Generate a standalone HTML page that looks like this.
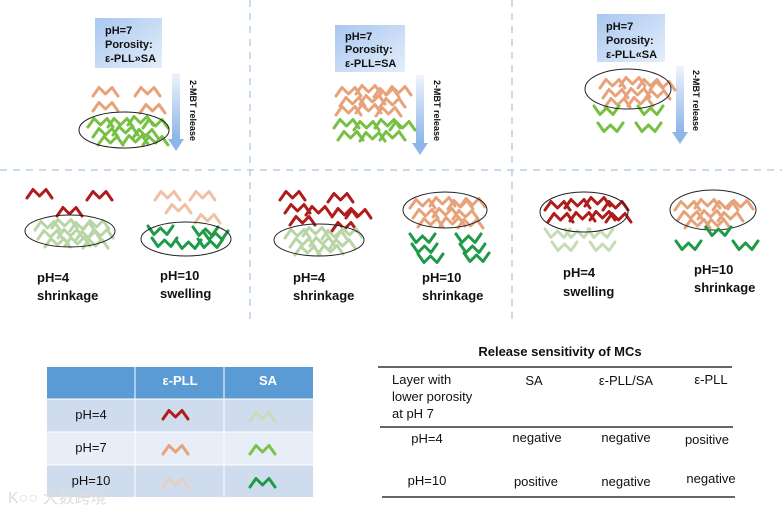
<!DOCTYPE html>
<html><head><meta charset="utf-8"><style>
body{margin:0;background:#fff}
svg{display:block;font-family:"Liberation Sans",Arial,sans-serif}
.b{font-weight:bold;font-size:13px;fill:#111}
.t{font-size:13px;fill:#111}
</style></head><body>
<svg width="782" height="515" viewBox="0 0 782 515" xmlns="http://www.w3.org/2000/svg">
<defs>
<path id="z" d="M0,10 L6,1.5 L12.5,8 L19,1.5 L25,10" fill="none" stroke-linecap="round" stroke-linejoin="round"/>
<path id="w" d="M0,1 L6,9.5 L12.5,3 L19,9.5 L25,1" fill="none" stroke-linecap="round" stroke-linejoin="round"/>
<linearGradient id="bx" x1="0" y1="0" x2="1" y2="1"><stop offset="0" stop-color="#a9c7ef"/><stop offset="1" stop-color="#e4eefb"/></linearGradient>
<linearGradient id="ar" x1="0" y1="0" x2="0" y2="1"><stop offset="0" stop-color="#eef4fc"/><stop offset="1" stop-color="#8db5e8"/></linearGradient>
</defs>
<g stroke="#b5d0ec" stroke-width="1.5" stroke-dasharray="7,6">
<line x1="0" y1="170" x2="782" y2="170"/>
<line x1="250" y1="0" x2="250" y2="325"/>
<line x1="512" y1="0" x2="512" y2="325"/>
</g>
<!-- panel 1 -->
<rect x="95" y="18" width="67" height="50" fill="url(#bx)"/>
<text class="b" style="font-size:11px" x="105" y="34">pH=7</text>
<text class="b" style="font-size:11px" x="105" y="48">Porosity:</text>
<text class="b" style="font-size:11px" x="105" y="62">ε-PLL»SA</text>
<rect x="172" y="73" width="8" height="66" fill="url(#ar)"/><polygon points="168,139 184,139 176,151" fill="#8db5e8"/>
<text class="b" style="font-size:9px" transform="translate(190,80) rotate(90)">2-MBT release</text>
<g stroke="#e8a27a" stroke-width="3">
<use href="#z" x="93" y="86"/><use href="#z" x="135" y="86"/><use href="#z" x="93" y="101"/><use href="#z" x="140" y="103"/></g>
<g stroke="#76c043" stroke-width="3">
<use href="#z" x="88" y="117"/><use href="#z" x="108" y="117"/><use href="#z" x="128" y="115"/><use href="#z" x="143" y="118"/>
<use href="#z" x="93" y="127"/><use href="#z" x="113" y="125"/><use href="#z" x="133" y="128"/>
<use href="#z" x="98" y="135"/><use href="#z" x="123" y="134"/><use href="#z" x="143" y="135"/></g>
<ellipse cx="124" cy="130" rx="45" ry="18" fill="none" stroke="#222" stroke-width="1"/>
<!-- panel 2 -->
<rect x="335" y="25" width="70" height="47" fill="url(#bx)"/>
<text class="b" style="font-size:11px" x="345" y="40">pH=7</text>
<text class="b" style="font-size:11px" x="345" y="53">Porosity:</text>
<text class="b" style="font-size:11px" x="345" y="67">ε-PLL=SA</text>
<rect x="416" y="75" width="8" height="68" fill="url(#ar)"/><polygon points="412,143 428,143 420,155" fill="#8db5e8"/>
<text class="b" style="font-size:9px" transform="translate(434,80) rotate(90)">2-MBT release</text>
<g stroke="#e8a27a" stroke-width="3">
<use href="#z" x="336" y="86"/><use href="#z" x="356" y="84"/><use href="#z" x="374" y="87"/><use href="#z" x="386" y="85"/>
<use href="#z" x="340" y="96"/><use href="#z" x="360" y="94"/><use href="#z" x="380" y="97"/>
<use href="#z" x="336" y="105"/><use href="#z" x="356" y="103"/><use href="#z" x="376" y="106"/></g>
<g stroke="#76c043" stroke-width="3">
<use href="#z" x="334" y="118"/><use href="#z" x="354" y="120"/><use href="#z" x="375" y="118"/><use href="#z" x="390" y="120"/>
<use href="#z" x="338" y="130"/><use href="#z" x="360" y="131"/><use href="#z" x="380" y="130"/></g>
<!-- panel 3 -->
<rect x="597" y="14" width="68" height="48" fill="url(#bx)"/>
<text class="b" style="font-size:11px" x="606" y="30">pH=7</text>
<text class="b" style="font-size:11px" x="606" y="44">Porosity:</text>
<text class="b" style="font-size:11px" x="606" y="58">ε-PLL«SA</text>
<rect x="676" y="66" width="8" height="66" fill="url(#ar)"/><polygon points="672,132 688,132 680,144" fill="#8db5e8"/>
<text class="b" style="font-size:9px" transform="translate(693,70) rotate(90)">2-MBT release</text>
<g stroke="#e8a27a" stroke-width="3">
<use href="#z" x="600" y="78"/><use href="#z" x="620" y="76"/><use href="#z" x="638" y="78"/><use href="#z" x="650" y="80"/>
<use href="#z" x="603" y="88"/><use href="#z" x="625" y="87"/><use href="#z" x="645" y="89"/>
<use href="#z" x="605" y="97"/><use href="#z" x="628" y="96"/></g>
<g stroke="#76c043" stroke-width="3">
<use href="#w" x="594" y="105"/><use href="#w" x="638" y="105"/><use href="#w" x="598" y="122"/><use href="#w" x="636" y="122"/></g>
<ellipse cx="628" cy="89" rx="43" ry="20" fill="none" stroke="#222" stroke-width="1"/>
<!-- bottom panel 1 -->
<g stroke="#b01c1c" stroke-width="3"><use href="#z" x="27" y="188"/><use href="#z" x="87" y="190"/><use href="#z" x="57" y="206"/></g>
<g stroke="#b8d6a5" stroke-width="3">
<use href="#z" x="35" y="220"/><use href="#z" x="52" y="218"/><use href="#z" x="70" y="221"/><use href="#z" x="84" y="219"/>
<use href="#z" x="38" y="229"/><use href="#z" x="58" y="228"/><use href="#z" x="76" y="230"/><use href="#z" x="88" y="228"/>
<use href="#z" x="45" y="237"/><use href="#z" x="65" y="236"/><use href="#z" x="83" y="238"/></g>
<ellipse cx="70" cy="231" rx="45" ry="16" fill="none" stroke="#222" stroke-width="1"/>
<g stroke="#f0c0a4" stroke-width="3"><use href="#z" x="155" y="190"/><use href="#z" x="190" y="190"/><use href="#z" x="166" y="203"/><use href="#z" x="195" y="213"/></g>
<g stroke="#1f9a48" stroke-width="3">
<use href="#w" x="148" y="225"/><use href="#w" x="152" y="237"/><use href="#w" x="176" y="239"/><use href="#w" x="193" y="226"/><use href="#w" x="198" y="238"/><use href="#w" x="203" y="230"/></g>
<ellipse cx="186" cy="239" rx="45" ry="17" fill="none" stroke="#222" stroke-width="1"/>
<text class="b" x="37" y="282">pH=4</text><text class="b" x="37" y="300">shrinkage</text>
<text class="b" x="160" y="280">pH=10</text><text class="b" x="160" y="298">swelling</text>
<!-- bottom panel 2 -->
<g stroke="#b01c1c" stroke-width="3">
<use href="#z" x="280" y="190"/><use href="#z" x="328" y="192"/><use href="#z" x="285" y="203"/><use href="#z" x="306" y="205"/><use href="#z" x="332" y="207"/><use href="#z" x="346" y="208"/><use href="#z" x="290" y="215"/><use href="#z" x="332" y="221"/></g>
<g stroke="#b8d6a5" stroke-width="3">
<use href="#z" x="285" y="228"/><use href="#z" x="303" y="226"/><use href="#z" x="322" y="229"/><use href="#z" x="337" y="227"/>
<use href="#z" x="290" y="237"/><use href="#z" x="310" y="236"/><use href="#z" x="330" y="238"/>
<use href="#z" x="295" y="245"/><use href="#z" x="318" y="244"/></g>
<ellipse cx="319" cy="240" rx="45" ry="16" fill="none" stroke="#222" stroke-width="1"/>
<g stroke="#e8a27a" stroke-width="3">
<use href="#z" x="410" y="198"/><use href="#z" x="430" y="196"/><use href="#z" x="448" y="199"/><use href="#z" x="460" y="197"/>
<use href="#z" x="413" y="208"/><use href="#z" x="433" y="207"/><use href="#z" x="453" y="209"/>
<use href="#z" x="418" y="217"/><use href="#z" x="440" y="216"/><use href="#z" x="458" y="218"/></g>
<ellipse cx="445" cy="210" rx="42" ry="18" fill="none" stroke="#222" stroke-width="1"/>
<g stroke="#1f9a48" stroke-width="3">
<use href="#w" x="410" y="233"/><use href="#w" x="412" y="243"/><use href="#w" x="418" y="253"/><use href="#w" x="456" y="233"/><use href="#w" x="460" y="243"/><use href="#w" x="464" y="252"/></g>
<text class="b" x="293" y="282">pH=4</text><text class="b" x="293" y="300">shrinkage</text>
<text class="b" x="422" y="282">pH=10</text><text class="b" x="422" y="300">shrinkage</text>
<!-- bottom panel 3 -->
<g stroke="#b01c1c" stroke-width="3">
<use href="#z" x="545" y="200"/><use href="#z" x="565" y="198"/><use href="#z" x="585" y="196"/><use href="#z" x="603" y="200"/>
<use href="#z" x="548" y="212"/><use href="#z" x="570" y="211"/><use href="#z" x="590" y="210"/><use href="#z" x="606" y="212"/></g>
<g stroke="#c5dcb5" stroke-width="3">
<use href="#w" x="545" y="228"/><use href="#w" x="565" y="228"/><use href="#w" x="588" y="228"/><use href="#w" x="552" y="241"/><use href="#w" x="590" y="241"/></g>
<ellipse cx="584" cy="212" rx="44" ry="20" fill="none" stroke="#222" stroke-width="1"/>
<g stroke="#e8a27a" stroke-width="3">
<use href="#z" x="675" y="200"/><use href="#z" x="695" y="198"/><use href="#z" x="713" y="200"/><use href="#z" x="728" y="199"/>
<use href="#z" x="678" y="210"/><use href="#z" x="698" y="209"/><use href="#z" x="718" y="211"/>
<use href="#z" x="685" y="218"/><use href="#z" x="705" y="218"/></g>
<ellipse cx="713" cy="210" rx="43" ry="20" fill="none" stroke="#222" stroke-width="1"/>
<g stroke="#1f9a48" stroke-width="3"><use href="#w" x="706" y="226"/><use href="#w" x="676" y="240"/><use href="#w" x="733" y="240"/></g>
<text class="b" x="563" y="277">pH=4</text><text class="b" x="563" y="296">swelling</text>
<text class="b" x="694" y="274">pH=10</text><text class="b" x="694" y="292">shrinkage</text>
<!-- left table -->
<rect x="47" y="367" width="266" height="32" fill="#5b9bd5"/>
<rect x="47" y="399" width="266" height="33" fill="#cfdcee"/>
<rect x="47" y="432" width="266" height="33" fill="#e8eef7"/>
<rect x="47" y="465" width="266" height="32" fill="#cfdcee"/>
<g stroke="#fff" stroke-width="1"><line x1="135" y1="367" x2="135" y2="497"/><line x1="224" y1="367" x2="224" y2="497"/><line x1="47" y1="399" x2="313" y2="399"/><line x1="47" y1="432" x2="313" y2="432"/><line x1="47" y1="465" x2="313" y2="465"/></g>
<text x="180" y="385" text-anchor="middle" style="font-size:13px;font-weight:bold;fill:#fff">ε-PLL</text>
<text x="268" y="385" text-anchor="middle" style="font-size:13px;font-weight:bold;fill:#fff">SA</text>
<text class="t" x="91" y="419" text-anchor="middle">pH=4</text>
<text class="t" x="91" y="452" text-anchor="middle">pH=7</text>
<text class="t" x="91" y="485" text-anchor="middle">pH=10</text>
<g stroke-width="3">
<use href="#z" x="163" y="409" stroke="#b01c1c"/>
<use href="#z" x="250" y="411" stroke="#c8dcb8"/>
<use href="#z" x="163" y="444" stroke="#e8a27a"/>
<use href="#z" x="250" y="444" stroke="#7cc24a"/>
<use href="#z" x="163" y="477" stroke="#e5cfc0"/>
<use href="#z" x="250" y="477" stroke="#1f9a48"/></g>
<text x="8" y="503" style="font-size:16px;fill:#ddd;font-family:'Liberation Sans','Noto Sans CJK SC',sans-serif">K○○ 大数跨境</text>
<!-- right table -->
<text class="b" x="560" y="356" text-anchor="middle">Release sensitivity of MCs</text>
<g stroke="#333" stroke-width="1.5"><line x1="378" y1="367" x2="732" y2="367"/><line x1="380" y1="427" x2="733" y2="427"/><line x1="382" y1="497" x2="735" y2="497"/></g>
<text class="t" x="392" y="384">Layer with</text>
<text class="t" x="392" y="401">lower porosity</text>
<text class="t" x="392" y="418">at pH 7</text>
<text class="t" x="534" y="385" text-anchor="middle">SA</text>
<text class="t" x="626" y="385" text-anchor="middle">ε-PLL/SA</text>
<text class="t" x="711" y="384" text-anchor="middle">ε-PLL</text>
<text class="t" x="427" y="443" text-anchor="middle">pH=4</text>
<text class="t" x="537" y="442" text-anchor="middle">negative</text>
<text class="t" x="626" y="442" text-anchor="middle">negative</text>
<text class="t" x="707" y="444" text-anchor="middle">positive</text>
<text class="t" x="427" y="485" text-anchor="middle">pH=10</text>
<text class="t" x="536" y="486" text-anchor="middle">positive</text>
<text class="t" x="626" y="486" text-anchor="middle">negative</text>
<text class="t" x="711" y="483" text-anchor="middle">negative</text>
</svg>
</body></html>
